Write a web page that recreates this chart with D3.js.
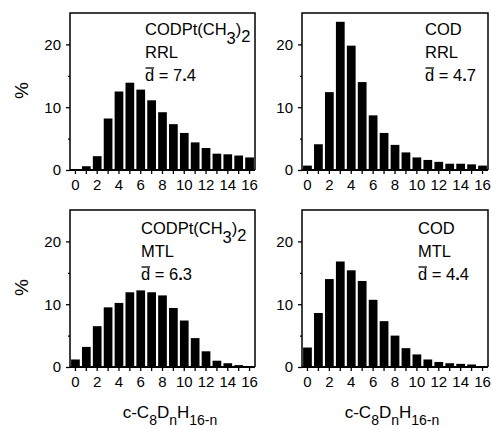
<!DOCTYPE html>
<html><head><meta charset="utf-8">
<script src="https://cdn.jsdelivr.net/npm/d3@7"></script>
<style>body{margin:0;background:#fff}svg{display:block}text{font-family:"Liberation Sans",Arial,Helvetica,sans-serif;fill:#000}</style>
</head><body><svg id="c" width="492" height="429"></svg>
<script>
const categories = d3.range(0, 17);            // n = 0..16 deuterium atoms
const tickLabels = ["0","2","4","6","8","10","12","14","16"];
const yTickLabels = ["0","10","20"];
const codptRRL = [0.1,0.6,2.2,8.2,12.5,13.9,12.8,11.1,9.2,7.3,5.9,4.4,3.5,2.6,2.5,2.3,2.0];
const codRRL   = [0.7,4.1,12.4,23.6,19.8,14.0,8.7,5.9,4.0,2.8,2.0,1.6,1.3,1.0,1.0,0.9,0.7];
const codptMTL = [1.2,3.2,6.5,9.5,10.2,11.9,12.2,11.9,11.4,9.4,7.4,4.6,2.5,1.0,0.6,0.3,0.1];
const codMTL   = [3.1,8.6,14.0,16.8,15.4,13.7,10.7,7.3,5.0,3.0,2.0,1.2,0.8,0.6,0.5,0.4,0.1];
const compounds = ["CODPt(CH3)2","COD","CODPt(CH3)2","COD"];
const methods = ["RRL","RRL","MTL","MTL"];
const meanD = ["7.4","4.7","6.3","4.4"];

const panels = [
  {data:codptRRL, x0:70, x1:255, y0:13, y1:170, tx:145, ty:35, ylab:true, xlab:false},
  {data:codRRL,   x0:302, x1:488, y0:13, y1:170, tx:425, ty:35, ylab:false, xlab:false},
  {data:codptMTL, x0:70, x1:255, y0:210, y1:367, tx:141, ty:234, ylab:true, xlab:true, lx:170},
  {data:codMTL,   x0:302, x1:488, y0:210, y1:367, tx:418, ty:234, ylab:false, xlab:true, lx:392}
];
const svg = d3.select("#c");
panels.forEach((p,i)=>{
  const x = d3.scaleBand().domain(categories).range([p.x0,p.x1]).paddingInner(0.2).paddingOuter(0.1);
  const y = d3.scaleLinear().domain([0,25]).range([p.y1,p.y0]);
  const g = svg.append("g");
  g.selectAll("rect.bar").data(p.data).join("rect").attr("class","bar")
    .attr("x",(d,j)=>x(categories[j])).attr("width",x.bandwidth())
    .attr("y",d=>y(d)).attr("height",d=>y(0)-y(d)).attr("fill","#000");
  // frame
  g.append("path").attr("d",`M${p.x0},${p.y1}V${p.y0}H${p.x1}V${p.y1}`)
    .attr("fill","none").attr("stroke","#000").attr("stroke-width",1.5);
  // x axis
  const xa = d3.axisBottom(x).tickSize(4).tickFormat(d=> tickLabels.includes(String(d))? String(d):"");
  const gx = g.append("g").attr("transform",`translate(0,${p.y1})`).call(xa);
  gx.select(".domain").attr("stroke-width",2).attr("d",`M${p.x0},0H${p.x1}`);
  gx.selectAll(".tick line").attr("stroke-width",1.3);
  gx.selectAll("text").attr("font-size",15).attr("y",6).attr("dy","0.95em").attr("fill","#000");
  // y axis
  const ya = d3.axisLeft(y).tickValues([0,5,10,15,20]).tickSize(4)
    .tickFormat(d=> yTickLabels.includes(String(d))? String(d):"");
  const gy = g.append("g").attr("transform",`translate(${p.x0},0)`).call(ya);
  gy.select(".domain").remove();
  gy.selectAll(".tick line").attr("stroke-width",1.3);
  gy.selectAll("text").attr("font-size",15).attr("fill","#000").attr("x",-9);
  gy.selectAll(".tick").filter(d=>d%10!==0).select("line").attr("x2",-2);
  // annotation
  const fs = 16.5;
  const t = g.append("text").attr("x",p.tx).attr("y",p.ty).attr("font-size",fs);
  if (compounds[i].startsWith("CODPt")) {
    t.append("tspan").text("CODPt(CH");
    t.append("tspan").attr("dy",9).text("3");
    t.append("tspan").attr("dy",-9).text(")");
    t.append("tspan").attr("dy",7).text("2");
  } else t.text(compounds[i]);
  g.append("text").attr("x",p.tx).attr("y",p.ty+23).attr("font-size",fs).text(methods[i]);
  const dt = g.append("text").attr("x",p.tx).attr("y",p.ty+46).attr("font-size",fs);
  dt.append("tspan").text("d = ");
  const parts = meanD[i].split(".");
  dt.append("tspan").text(parts[0]);
  dt.append("tspan").attr("font-weight","bold").text(".");
  dt.append("tspan").text(parts[1]);
  g.append("line").attr("x1",p.tx+0.5).attr("x2",p.tx+9).attr("y1",p.ty+33).attr("y2",p.ty+33)
    .attr("stroke","#000").attr("stroke-width",1.3);
  if (p.ylab) g.append("text").attr("transform",`translate(28,${(p.y0+p.y1)/2-1}) rotate(-90)`)
    .attr("text-anchor","middle").attr("font-size",19).text("%");
  if (p.xlab) {
    const xl = g.append("text").attr("x",p.lx).attr("y",418).attr("text-anchor","middle").attr("font-size",17);
    xl.append("tspan").text("c-C");
    xl.append("tspan").attr("dy",7).attr("font-size",14).text("8");
    xl.append("tspan").attr("dy",-7).text("D");
    xl.append("tspan").attr("dy",7).attr("font-size",14).text("n");
    xl.append("tspan").attr("dy",-7).text("H");
    xl.append("tspan").attr("dy",7).attr("font-size",14).text("16-n");
  }
});
</script></body></html>
